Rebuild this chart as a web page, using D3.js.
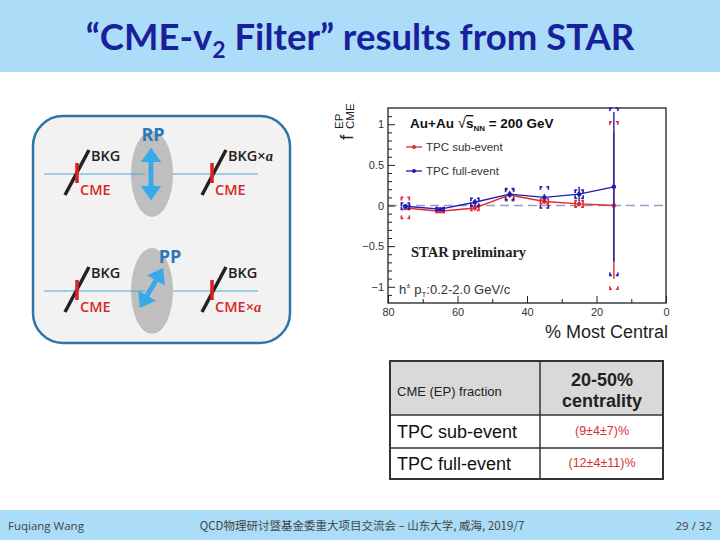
<!DOCTYPE html>
<html>
<head>
<meta charset="utf-8">
<script src="https://cdn.jsdelivr.net/npm/d3@7"></script>
<style>
  body { margin: 0; background: #fff; }
  svg { display: block; }
</style>
</head>
<body>
<div id="slide"></div>
<script>
// centrality bins (% most central)
const centrality = [75, 65, 55, 45, 35, 25, 15];

// TPC sub-event
const subValue = [-0.03, -0.07, -0.03, 0.13, 0.05, 0.02, 0.0];
const subStat  = [0.02, 0.02, 0.03, 0.03, 0.03, 0.03, 0.9];
const subSys   = [0.13, 0.02, 0.03, 0.07, 0.03, 0.04, 1.03];

// TPC full-event
const fullValue = [-0.01, -0.045, 0.04, 0.14, 0.10, 0.14, 0.23];
const fullStat  = [0.02, 0.02, 0.04, 0.04, 0.04, 0.09, 0.92];
const fullSys   = [0.04, 0.02, 0.05, 0.07, 0.13, 0.05, 1.09];

const xMajorTicks = [80, 60, 40, 20, 0];
const xMinorTicks = [70, 50, 30, 10];
const yMajorTicks = [1, 0.5, 0, -0.5, -1];
const yTickLabels = ["1", "0.5", "0", "\u22120.5", "\u22121"];

const tableRows = ["TPC sub-event", "TPC full-event"];
const tableValues = ["(9\u00b14\u00b17)%", "(12\u00b14\u00b111)%"];

const W = 720, H = 540;
const svg = d3.select("#slide").append("svg").attr("width", W).attr("height", H);

// ---- slide frame ----
svg.append("rect").attr("width", W).attr("height", 72).attr("fill", "#abddf8");
svg.append("rect").attr("y", 510).attr("width", W).attr("height", 30).attr("fill", "#abddf8");

const title = svg.append("text")
    .attr("x", 360).attr("y", 50)
    .attr("text-anchor", "middle")
    .attr("font-family", "Lato, 'Open Sans', sans-serif")
    .attr("font-weight", 700)
    .attr("font-size", 36.5)
    .attr("fill", "#1a1f9c");
title.append("tspan").text("\u201cCME-v");
title.append("tspan").attr("font-size", 23).attr("dy", 8).text("2");
title.append("tspan").attr("dy", -8).text(" Filter\u201d results from STAR");

const foot = svg.append("g")
    .attr("font-family", "'Open Sans', 'Noto Sans CJK SC', sans-serif")
    .attr("font-size", 11.5)
    .attr("fill", "#444");
foot.append("text").attr("x", 8).attr("y", 530).text("Fuqiang Wang");
foot.append("text").attr("x", 362).attr("y", 530).attr("text-anchor", "middle")
    .attr("font-family", "'Noto Sans CJK SC', sans-serif")
    .text("QCD物理研讨暨基金委重大项目交流会 \u2013 山东大学, 威海, 2019/7");
foot.append("text").attr("x", 712).attr("y", 530).attr("text-anchor", "end").text("29 / 32");

// ---- schematic on the left ----
const diag = svg.append("g");
diag.append("rect")
    .attr("x", 33).attr("y", 116).attr("width", 257).attr("height", 227)
    .attr("rx", 30).attr("ry", 30)
    .attr("fill", "#f2f2f2").attr("stroke", "#2f75a6").attr("stroke-width", 2.5);

const defs = svg.append("defs");
defs.append("marker").attr("id", "ah")
    .attr("viewBox", "0 0 7 10").attr("refX", 2).attr("refY", 5)
    .attr("markerWidth", 2.9).attr("markerHeight", 4.2)
    .attr("orient", "auto-start-reverse")
  .append("path").attr("d", "M0,0 L7,5 L0,10 Z").attr("fill", "#3aa9e9");

const rows = [
  {cy: 174, arrow: [151, 158, 151, 190], plane: "RP", px: 153, py: 141,
   left: ["BKG", "CME"], right: ["BKG", "CME"], rightTimes: [true, false]},
  {cy: 291, arrow: [158, 277, 145, 299], plane: "PP", px: 170, py: 263,
   left: ["BKG", "CME"], right: ["BKG", "CME"], rightTimes: [false, true]}
];

rows.forEach(r => {
  diag.append("ellipse").attr("cx", 152).attr("cy", r.cy).attr("rx", 21).attr("ry", 43).attr("fill", "#bfbfbf");
  diag.append("line").attr("x1", 44).attr("x2", 145).attr("y1", r.cy).attr("y2", r.cy).attr("stroke", "#4aa6cf").attr("stroke-width", 1);
  diag.append("line").attr("x1", 173).attr("x2", 258).attr("y1", r.cy).attr("y2", r.cy).attr("stroke", "#4aa6cf").attr("stroke-width", 1);
  diag.append("line")
      .attr("x1", r.arrow[0]).attr("y1", r.arrow[1]).attr("x2", r.arrow[2]).attr("y2", r.arrow[3])
      .attr("stroke", "#3aa9e9").attr("stroke-width", 5)
      .attr("marker-start", "url(#ah)").attr("marker-end", "url(#ah)");
  diag.append("text").attr("x", r.px).attr("y", r.py).attr("text-anchor", "middle")
      .attr("font-family", "'Open Sans', sans-serif").attr("font-weight", 700).attr("font-size", 18)
      .attr("fill", "#2e78b7").text(r.plane);

  [[65, 77, r.left, [false, false]], [202, 212, r.right, r.rightTimes]].forEach(([lx, rx, labels, times]) => {
    diag.append("line").attr("x1", lx).attr("y1", r.cy + 21).attr("x2", lx + 24).attr("y2", r.cy - 24)
        .attr("stroke", "#222").attr("stroke-width", 3.5);
    diag.append("line").attr("x1", rx).attr("y1", r.cy - 11).attr("x2", rx).attr("y2", r.cy + 9)
        .attr("stroke", "#e02020").attr("stroke-width", 3.5);
    const t1 = diag.append("text").attr("x", lx + 26).attr("y", r.cy - 13)
        .attr("font-family", "'Open Sans', sans-serif").attr("font-weight", 600).attr("font-size", 14.5)
        .attr("fill", "#222").text(labels[0]);
    if (times[0]) t1.append("tspan").text("\u00d7").append("tspan")
        .attr("font-family", "'Liberation Serif', serif").attr("font-style", "italic").attr("font-weight", 700).text("a");
    const t2 = diag.append("text").attr("x", rx + 3).attr("y", r.cy + 21)
        .attr("font-family", "'Open Sans', sans-serif").attr("font-weight", 600).attr("font-size", 14.5)
        .attr("fill", "#d42a2a").text(labels[1]);
    if (times[1]) t2.append("tspan").text("\u00d7").append("tspan")
        .attr("font-family", "'Liberation Serif', serif").attr("font-style", "italic").attr("font-weight", 700).text("a");
  });
});

// ---- the plot ----
const plotL = 388, plotR = 666, plotT = 108, plotB = 303;
const x = d3.scaleLinear().domain([80, 0]).range([plotL, plotR]);
const y = d3.scaleLinear().domain([-1.2, 1.2]).range([plotB, plotT]).clamp(true);

const plot = svg.append("g").attr("font-family", "'Liberation Sans', Arial, sans-serif");

plot.append("line")
    .attr("x1", plotL).attr("x2", plotR).attr("y1", y(0)).attr("y2", y(0))
    .attr("stroke", "#9a9ccc").attr("stroke-width", 1.3).attr("stroke-dasharray", "9,5");

const axisStyle = g => {
  g.select(".domain").remove();
  g.selectAll(".tick line").attr("stroke", "#222").attr("stroke-width", 1);
  g.selectAll(".tick text").attr("fill", "#333").attr("font-size", 11).attr("font-family", "'Liberation Sans', Arial, sans-serif");
};

plot.append("g").attr("transform", `translate(0,${plotB})`)
    .call(d3.axisBottom(x).tickValues(xMajorTicks).tickSize(-7).tickPadding(5).tickFormat(d3.format("d")))
    .call(axisStyle);
plot.append("g").attr("transform", `translate(0,${plotB})`)
    .call(d3.axisBottom(x).tickValues(xMinorTicks).tickSize(-4).tickFormat(""))
    .call(axisStyle);
plot.append("g").attr("transform", `translate(${plotL},0)`)
    .call(d3.axisLeft(y).tickValues(yMajorTicks).tickSize(-7).tickPadding(4)
      .tickFormat((d, i) => yTickLabels[i]))
    .call(axisStyle);
plot.append("g").attr("transform", `translate(${plotL},0)`)
    .call(d3.axisLeft(y).tickValues(d3.range(-1.1, 1.15, 0.1).filter(v => Math.abs(v * 2 - Math.round(v * 2)) > 0.01)).tickSize(-4).tickFormat(""))
    .call(axisStyle);

plot.append("rect")
    .attr("x", plotL).attr("y", plotT).attr("width", plotR - plotL).attr("height", plotB - plotT)
    .attr("fill", "none").attr("stroke", "#222").attr("stroke-width", 1.3);

const series = [
  {name: "TPC sub-event", color: "#e3262a", values: subValue, stat: subStat, sys: subSys, ly: 147},
  {name: "TPC full-event", color: "#1c1cb5", values: fullValue, stat: fullStat, sys: fullSys, ly: 171}
];

const line = d3.line().x(d => x(d.c)).y(d => y(d.v));

series.forEach(s => {
  const data = centrality.map((c, i) => ({c, v: s.values[i], st: s.stat[i], sy: s.sys[i]}));
  const g = plot.append("g");

  // systematic brackets
  data.forEach(d => {
    const yt = y(d.v + d.sy), yb = y(d.v - d.sy), xc = x(d.c), w = 4, cap = 2;
    [-1, 1].forEach(side => {
      const xo = xc + side * w;
      g.append("path")
          .attr("d", `M${xo - side * cap},${yt} L${xo},${yt} L${xo},${yt + 3} M${xo},${yb - 3} L${xo},${yb} L${xo - side * cap},${yb}`)
          .attr("fill", "none").attr("stroke", s.color).attr("stroke-width", 1.6);
    });
  });

  g.append("path").datum(data).attr("d", line)
      .attr("fill", "none").attr("stroke", s.color).attr("stroke-width", 1.4);

  g.selectAll(".stat").data(data).enter().append("line")
      .attr("x1", d => x(d.c)).attr("x2", d => x(d.c))
      .attr("y1", d => y(d.v + d.st)).attr("y2", d => y(d.v - d.st))
      .attr("stroke", s.color).attr("stroke-width", 1.4);

  g.selectAll(".pt").data(data).enter().append("circle")
      .attr("cx", d => x(d.c)).attr("cy", d => y(d.v)).attr("r", 2.2)
      .attr("fill", s.color);

  // legend
  plot.append("line").attr("x1", 406).attr("x2", 422).attr("y1", s.ly).attr("y2", s.ly)
      .attr("stroke", s.color).attr("stroke-width", 1.3);
  plot.append("circle").attr("cx", 414).attr("cy", s.ly).attr("r", 2).attr("fill", s.color);
  plot.append("text").attr("x", 426).attr("y", s.ly + 4).attr("font-size", 11.5).attr("fill", "#333").text(s.name);
});

const head = plot.append("text").attr("x", 410).attr("y", 128).attr("font-size", 13.5).attr("font-weight", 700).attr("fill", "#111");
head.append("tspan").text("Au+Au ");
head.append("tspan").attr("font-weight", 400).attr("font-size", 15).text("\u221a");
head.append("tspan").attr("text-decoration", "overline").text("s");
head.append("tspan").attr("font-size", 8).attr("dy", 3).text("NN");
head.append("tspan").attr("dy", -3).text(" = 200 GeV");

plot.append("text").attr("x", 411).attr("y", 257)
    .attr("font-family", "'Liberation Serif', 'Times New Roman', serif").attr("font-weight", 700)
    .attr("font-size", 14.5).attr("fill", "#222").text("STAR preliminary");

const hp = plot.append("text").attr("x", 399).attr("y", 294).attr("font-size", 13).attr("fill", "#333");
hp.append("tspan").text("h");
hp.append("tspan").attr("font-size", 8).attr("dy", -6).text("\u00b1");
hp.append("tspan").attr("dy", 6).text(" p");
hp.append("tspan").attr("font-size", 8).attr("dy", 3).text("T");
hp.append("tspan").attr("dy", -3).text(":0.2-2.0 GeV/c");

plot.append("text").attr("x", 668).attr("y", 338).attr("text-anchor", "end")
    .attr("font-size", 18).attr("fill", "#222").text("% Most Central");

const yl = plot.append("g").attr("transform", "translate(353,140) rotate(-90)").attr("fill", "#222");
yl.append("text").attr("x", 0).attr("y", 0).attr("font-size", 19).text("f");
yl.append("text").attr("x", 11).attr("y", -10).attr("font-size", 11.5).text("EP");
yl.append("text").attr("x", 11).attr("y", 1).attr("font-size", 11.5).text("CME");

// ---- result table ----
const tb = svg.append("g").attr("font-family", "'Liberation Sans', Arial, sans-serif");
const tX = 390, tMid = 540, tR = 663;
const rowY = [361, 415, 448, 479];
tb.append("rect").attr("x", tX).attr("y", rowY[0]).attr("width", tR - tX).attr("height", rowY[1] - rowY[0]).attr("fill", "#d9d9d9");
tb.append("rect").attr("x", tX).attr("y", rowY[0]).attr("width", tR - tX).attr("height", rowY[3] - rowY[0])
    .attr("fill", "none").attr("stroke", "#333").attr("stroke-width", 2);
tb.append("line").attr("x1", tMid).attr("x2", tMid).attr("y1", rowY[0]).attr("y2", rowY[3]).attr("stroke", "#333").attr("stroke-width", 1.5);
[rowY[1], rowY[2]].forEach(yy => tb.append("line").attr("x1", tX).attr("x2", tR).attr("y1", yy).attr("y2", yy).attr("stroke", "#333").attr("stroke-width", 1.5));

tb.append("text").attr("x", 397).attr("y", 396).attr("font-size", 13).attr("fill", "#222").text("CME (EP) fraction");
tb.append("text").attr("x", 602).attr("y", 386).attr("text-anchor", "middle").attr("font-size", 18).attr("font-weight", 700).attr("fill", "#222").text("20-50%");
tb.append("text").attr("x", 602).attr("y", 407).attr("text-anchor", "middle").attr("font-size", 18).attr("font-weight", 700).attr("fill", "#222").text("centrality");
tableRows.forEach((r, i) => {
  const cy = (rowY[i + 1] + rowY[i + 2]) / 2;
  tb.append("text").attr("x", 397).attr("y", cy + 6).attr("font-size", 18).attr("fill", "#111").text(r);
  tb.append("text").attr("x", 602).attr("y", cy + 3).attr("text-anchor", "middle").attr("font-size", 12.5).attr("fill", "#d93030").text(tableValues[i]);
});
</script>
</body>
</html>
